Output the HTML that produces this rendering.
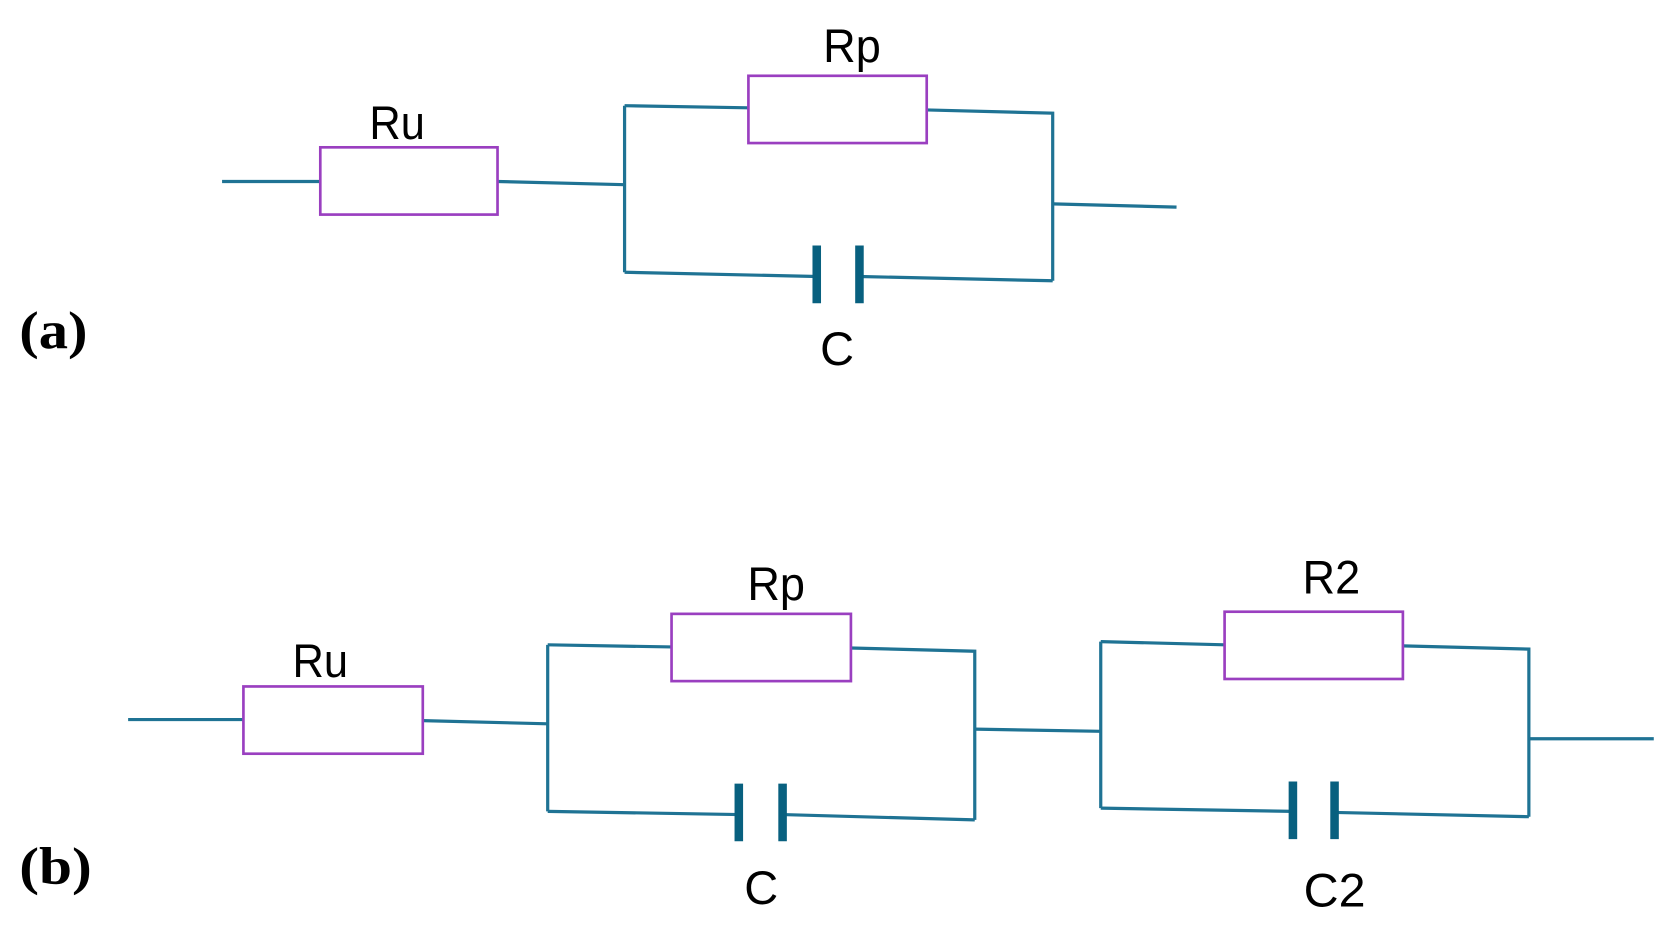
<!DOCTYPE html>
<html><head><style>html,body{margin:0;padding:0;background:#fff;}svg{display:block}</style></head>
<body>
<svg width="1673" height="932" viewBox="0 0 1567 873" preserveAspectRatio="none" xmlns="http://www.w3.org/2000/svg">
<g stroke="#1f7394" stroke-width="3" fill="none">
<polyline points="208,170 300,170"/>
<polyline points="466,170 585,173"/>
<polyline points="585,99 585,255"/>
<polyline points="585,99 701,101"/>
<polyline points="868,103 986,106 986,263"/>
<polyline points="986,191 1102,194"/>
<polyline points="585,255 765,259"/>
<polyline points="805,259 986,263"/>

<polyline points="120,674 228,674"/>
<polyline points="396,675 513,678"/>
<polyline points="513,604 513,760"/>
<polyline points="513,604 629,606"/>
<polyline points="797,607 913,610 913,768"/>
<polyline points="513,760 692,763"/>
<polyline points="733,763 913,768"/>
<polyline points="913,683 1031,685"/>
<polyline points="1031,601 1031,757"/>
<polyline points="1031,601 1147,604"/>
<polyline points="1314,605 1432,608 1432,765"/>
<polyline points="1031,757 1211,760"/>
<polyline points="1250,761 1432,765"/>
<polyline points="1432,692 1549,692"/>
</g>
<g stroke="#08607f" stroke-width="8">
<line x1="765" y1="230" x2="765" y2="284"/><line x1="805" y1="230" x2="805" y2="284"/>
<line x1="692" y1="734" x2="692" y2="788"/><line x1="733" y1="734" x2="733" y2="788"/>
<line x1="1211" y1="732" x2="1211" y2="786"/><line x1="1250" y1="732" x2="1250" y2="786"/>
</g>
<g stroke="#9a3fc0" stroke-width="2.5" fill="#fff">
<rect x="300" y="138" width="166" height="63"/>
<rect x="701" y="71" width="167" height="63"/>
<rect x="228" y="643" width="168" height="63"/>
<rect x="629" y="575" width="168" height="63"/>
<rect x="1147" y="573" width="167" height="63"/>
</g>
<g font-family="Liberation Sans, sans-serif" font-size="44" fill="#000" text-anchor="middle">
<text x="372" y="130" textLength="52" lengthAdjust="spacingAndGlyphs">Ru</text>
<text x="798" y="58" textLength="54" lengthAdjust="spacingAndGlyphs">Rp</text>
<text x="784" y="342">C</text>
<text x="300" y="634" textLength="52" lengthAdjust="spacingAndGlyphs">Ru</text>
<text x="727" y="562" textLength="54" lengthAdjust="spacingAndGlyphs">Rp</text>
<text x="1247" y="556" textLength="54" lengthAdjust="spacingAndGlyphs">R2</text>
<text x="713" y="847">C</text>
<text x="1250" y="849" textLength="58" lengthAdjust="spacingAndGlyphs">C2</text>
</g>
<g font-family="Liberation Serif, serif" font-weight="bold" font-size="50" fill="#000">
<text x="18" y="326" textLength="64" lengthAdjust="spacingAndGlyphs">(a)</text>
<text x="18" y="828" textLength="68" lengthAdjust="spacingAndGlyphs">(b)</text>
</g>
</svg>
</body></html>
